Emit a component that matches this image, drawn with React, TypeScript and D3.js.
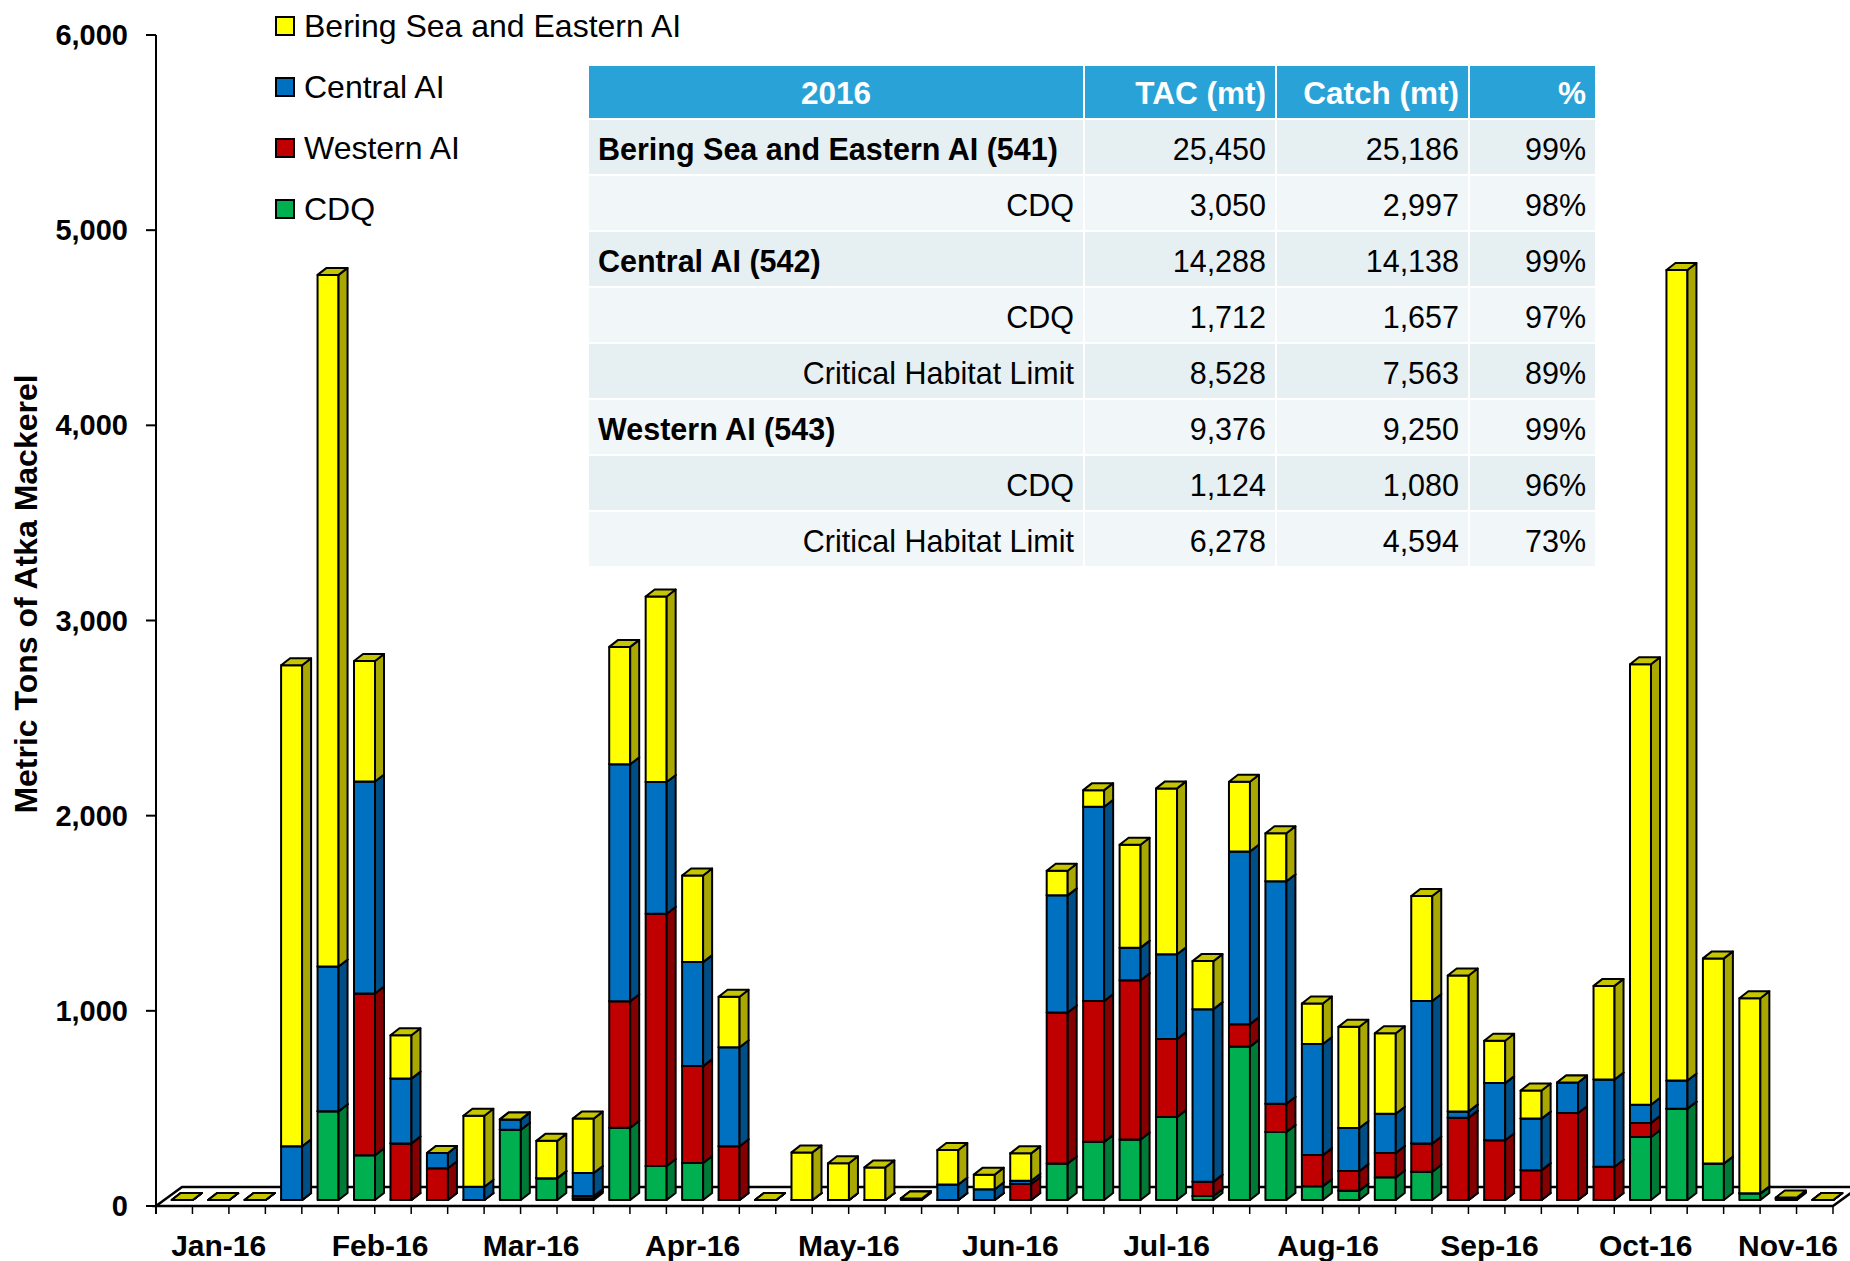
import { useEffect, useRef } from 'react';
import * as d3 from 'd3';

// week-ending dates (one bar per week)
const weeks = [
  '2016-01-02', '2016-01-09', '2016-01-16', '2016-01-23', '2016-01-30',
  '2016-02-06', '2016-02-13', '2016-02-20', '2016-02-27',
  '2016-03-05', '2016-03-12', '2016-03-19', '2016-03-26',
  '2016-04-02', '2016-04-09', '2016-04-16', '2016-04-23', '2016-04-30',
  '2016-05-07', '2016-05-14', '2016-05-21', '2016-05-28',
  '2016-06-04', '2016-06-11', '2016-06-18', '2016-06-25',
  '2016-07-02', '2016-07-09', '2016-07-16', '2016-07-23', '2016-07-30',
  '2016-08-06', '2016-08-13', '2016-08-20', '2016-08-27',
  '2016-09-03', '2016-09-10', '2016-09-17', '2016-09-24',
  '2016-10-01', '2016-10-08', '2016-10-15', '2016-10-22', '2016-10-29',
  '2016-11-05', '2016-11-12',
];

// stacked bottom -> top
const cdq = [0, 0, 0, 0, 455, 229, 0, 0, 0, 360, 112, 8, 370, 174, 190, 0, 0, 0, 0, 0, 5, 0, 0, 0, 187, 298, 310, 425, 20, 786, 349, 71, 48, 116, 145, 0, 0, 0, 0, 0, 323, 468, 187, 34, 4, 0];
const westernAI = [0, 0, 0, 0, 0, 829, 290, 163, 0, 0, 0, 12, 648, 1293, 496, 275, 0, 0, 0, 0, 3, 0, 0, 82, 774, 722, 816, 400, 74, 115, 144, 159, 100, 125, 144, 422, 306, 153, 446, 170, 72, 0, 0, 0, 3, 0];
const centralAI = [0, 0, 0, 275, 741, 1086, 332, 78, 68, 53, 0, 118, 1215, 675, 533, 508, 0, 0, 0, 0, 0, 79, 55, 17, 600, 995, 167, 434, 884, 885, 1140, 569, 221, 201, 731, 32, 293, 264, 156, 447, 93, 144, 0, 0, 3, 0];
const beringEAI = [0, 0, 0, 2465, 3544, 618, 222, 0, 364, 0, 191, 279, 601, 950, 444, 258, 0, 244, 188, 167, 0, 177, 75, 140, 126, 85, 527, 850, 246, 357, 246, 208, 519, 412, 538, 696, 217, 144, 0, 480, 2257, 4153, 1051, 1000, 3, 0];

const yTicks = [0, 1000, 2000, 3000, 4000, 5000, 6000];
const monthLabels = ['Jan-16', 'Feb-16', 'Mar-16', 'Apr-16', 'May-16', 'Jun-16', 'Jul-16', 'Aug-16', 'Sep-16', 'Oct-16', 'Nov-16'];
const monthDates = ['2016-01-09', '2016-02-09', '2016-03-09', '2016-04-09', '2016-05-09', '2016-06-09', '2016-07-09', '2016-08-09', '2016-09-09', '2016-10-09', '2016-11-09'];

const tableHeader = ['2016', 'TAC (mt)', 'Catch (mt)', '%'];
const tableLabels = ['Bering Sea and Eastern AI (541)', 'CDQ', 'Central AI (542)', 'CDQ', 'Critical Habitat Limit', 'Western AI (543)', 'CDQ', 'Critical Habitat Limit'];
const tableTAC = ['25,450', '3,050', '14,288', '1,712', '8,528', '9,376', '1,124', '6,278'];
const tableCatch = ['25,186', '2,997', '14,138', '1,657', '7,563', '9,250', '1,080', '4,594'];
const tablePct = ['99%', '98%', '99%', '97%', '89%', '99%', '96%', '73%'];
const tableBold = [true, false, true, false, false, true, false, false];

const series = [
  { name: 'CDQ', values: cdq, front: '#00b050', side: '#007a37', top: '#009444' },
  { name: 'Western AI', values: westernAI, front: '#c00000', side: '#850000', top: '#a00000' },
  { name: 'Central AI', values: centralAI, front: '#0070c0', side: '#004e86', top: '#005ea3' },
  { name: 'Bering Sea and Eastern AI', values: beringEAI, front: '#ffff00', side: '#a8a800', top: '#c6c600' },
];

const FONT = "'Liberation Sans', Arial, sans-serif";

export default function App() {
  const svgRef = useRef<SVGSVGElement>(null);
  const width = 1850;
  const height = 1261;

  useEffect(() => {
    if (!svgRef.current) return;
    const svg = d3.select(svgRef.current);
    svg.selectAll('*').remove();

    const left = 156;
    const right = 1833;
    const floor = { dx: 26, dy: -19 };
    const barOff = { dx: 8, dy: -6 };
    const depth = { dx: 9, dy: -7 };

    const x = d3.scaleBand<string>().domain(weeks).range([left, right]).paddingInner(0.424).paddingOuter(0.212);
    const y = d3.scaleLinear().domain([0, 6000]).range([1206, 35]);
    const parse = d3.timeParse('%Y-%m-%d');
    const t = d3
      .scaleTime()
      .domain([parse(weeks[0])!, parse(weeks[weeks.length - 1])!])
      .range([
        (x(weeks[0]) ?? 0) + x.bandwidth() / 2 + barOff.dx,
        (x(weeks[weeks.length - 1]) ?? 0) + x.bandwidth() / 2 + barOff.dx,
      ]);

    // Floor
    const y0 = y(0);
    svg
      .append('polygon')
      .attr('points', [
        [left, y0],
        [right, y0],
        [right + floor.dx, y0 + floor.dy],
        [left + floor.dx, y0 + floor.dy],
      ].map((p) => p.join(',')).join(' '))
      .attr('fill', '#fff')
      .attr('stroke', '#000')
      .attr('stroke-width', 2.5);

    // x tick marks at week boundaries
    const step = x.step();
    const bounds = d3.range(weeks.length + 1).map((i) => left + i * step);
    svg
      .append('g')
      .selectAll('line')
      .data(bounds)
      .enter()
      .append('line')
      .attr('x1', (d) => d)
      .attr('x2', (d) => d)
      .attr('y1', y0)
      .attr('y2', y0 + 8)
      .attr('stroke', '#000')
      .attr('stroke-width', 1.5);

    // y axis
    svg
      .append('line')
      .attr('x1', left)
      .attr('x2', left)
      .attr('y1', y(6000))
      .attr('y2', y0 + 8)
      .attr('stroke', '#000')
      .attr('stroke-width', 2);
    const yg = svg.append('g');
    yg.selectAll('line')
      .data(yTicks)
      .enter()
      .append('line')
      .attr('x1', left - 10)
      .attr('x2', left)
      .attr('y1', (d) => y(d))
      .attr('y2', (d) => y(d))
      .attr('stroke', '#000')
      .attr('stroke-width', 2);
    yg.selectAll('text')
      .data(yTicks)
      .enter()
      .append('text')
      .attr('x', 128)
      .attr('y', (d) => y(d))
      .attr('text-anchor', 'end')
      .attr('dominant-baseline', 'central')
      .style('font-family', FONT)
      .style('font-size', '29px')
      .style('font-weight', '700')
      .text((d) => d3.format(',')(d));

    // y title
    svg
      .append('text')
      .attr('transform', 'translate(26,594) rotate(-90)')
      .attr('text-anchor', 'middle')
      .attr('dominant-baseline', 'central')
      .style('font-family', FONT)
      .style('font-size', '32px')
      .style('font-weight', '700')
      .text('Metric Tons of Atka Mackerel');

    // month labels
    svg
      .append('g')
      .selectAll('text')
      .data(monthLabels)
      .enter()
      .append('text')
      .attr('x', (d, i) => Math.min(t(parse(monthDates[i])!), right - 45))
      .attr('y', 1245)
      .attr('text-anchor', 'middle')
      .attr('dominant-baseline', 'central')
      .style('font-family', FONT)
      .style('font-size', '30px')
      .style('font-weight', '700')
      .text((d) => d);

    // 3D stacked bars
    const w = x.bandwidth();
    const bars = svg.append('g').attr('stroke', '#000').attr('stroke-width', 2).attr('stroke-linejoin', 'round');
    weeks.forEach((wk, i) => {
      let cum = 0;
      const bx = (x(wk) ?? 0) + barOff.dx;
      series.forEach((s) => {
        const v = s.values[i];
        const yb = y(cum) + barOff.dy;
        const yt = y(cum + v) + barOff.dy;
        cum += v;
        const g = bars.append('g');
        g.append('rect').attr('x', bx).attr('y', yt).attr('width', w).attr('height', yb - yt).attr('fill', s.front);
        g.append('polygon')
          .attr('points', [
            [bx + w, yb],
            [bx + w + depth.dx, yb + depth.dy],
            [bx + w + depth.dx, yt + depth.dy],
            [bx + w, yt],
          ].map((p) => p.join(',')).join(' '))
          .attr('fill', s.side);
        g.append('polygon')
          .attr('points', [
            [bx, yt],
            [bx + w, yt],
            [bx + w + depth.dx, yt + depth.dy],
            [bx + depth.dx, yt + depth.dy],
          ].map((p) => p.join(',')).join(' '))
          .attr('fill', s.top);
      });
    });

    // legend
    const legendItems = series.slice().reverse();
    const lg = svg.append('g');
    legendItems.forEach((s, i) => {
      const ly = 26 + i * 61;
      lg.append('rect')
        .attr('x', 276)
        .attr('y', ly - 9)
        .attr('width', 18)
        .attr('height', 18)
        .attr('fill', s.front)
        .attr('stroke', '#000')
        .attr('stroke-width', 2);
      lg.append('text')
        .attr('x', 304)
        .attr('y', ly)
        .attr('dominant-baseline', 'central')
        .style('font-family', FONT)
        .style('font-size', '32px')
        .text(s.name);
    });

    // table
    const cols = [588, 1084, 1276, 1469, 1596];
    const tg = svg.append('g').style('font-family', FONT);
    const headTop = 66;
    const headH = 52;
    const rowTop = 120;
    const rowH = 56;
    tableHeader.forEach((h, c) => {
      tg.append('rect')
        .attr('x', cols[c] + 1)
        .attr('y', headTop)
        .attr('width', cols[c + 1] - cols[c] - 2)
        .attr('height', headH)
        .attr('fill', '#29a3d7');
      tg.append('text')
        .attr('x', c === 0 ? (cols[0] + cols[1]) / 2 : cols[c + 1] - 10)
        .attr('y', headTop + headH / 2 + 1)
        .attr('text-anchor', c === 0 ? 'middle' : 'end')
        .attr('dominant-baseline', 'central')
        .style('font-size', '31.5px')
        .style('font-weight', '700')
        .style('fill', '#fff')
        .text(h);
    });
    tableLabels.forEach((label, r) => {
      const ry = rowTop + r * rowH;
      const cells = [label, tableTAC[r], tableCatch[r], tablePct[r]];
      cells.forEach((txt, c) => {
        tg.append('rect')
          .attr('x', cols[c] + 1)
          .attr('y', ry)
          .attr('width', cols[c + 1] - cols[c] - 2)
          .attr('height', rowH - 2)
          .attr('fill', r % 2 === 0 ? '#e6f0f3' : '#f1f6f8');
        const leftAlign = c === 0 && tableBold[r];
        tg.append('text')
          .attr('x', leftAlign ? cols[0] + 10 : cols[c + 1] - 10)
          .attr('y', ry + rowH / 2 + 1)
          .attr('text-anchor', leftAlign ? 'start' : 'end')
          .attr('dominant-baseline', 'central')
          .style('font-size', '30.5px')
          .style('font-weight', c === 0 && tableBold[r] ? '700' : '400')
          .style('fill', '#000')
          .text(txt);
      });
    });
  }, []);

  return (
    <div style={{ position: 'absolute', left: 0, top: 0 }}>
      <svg ref={svgRef} width={width} height={height} style={{ display: 'block', background: '#fff' }} />
    </div>
  );
}
